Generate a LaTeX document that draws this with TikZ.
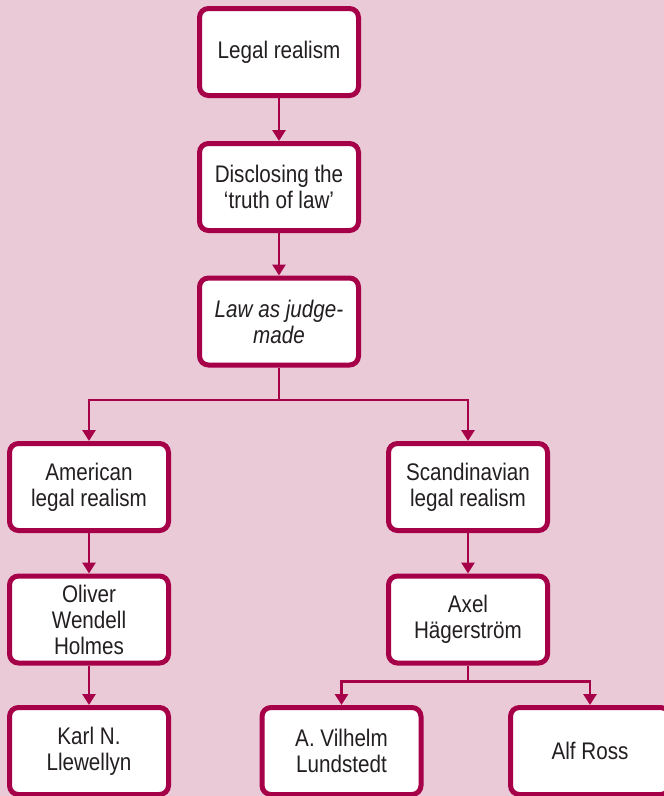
\documentclass[tikz,border=0pt]{standalone}
\usepackage{fontspec}
\setmainfont{Liberation Sans}[FakeStretch=0.86]
\usetikzlibrary{arrows.meta}
\definecolor{bgpink}{RGB}{235,202,216}
\definecolor{crimson}{RGB}{166,0,72}
\definecolor{inktext}{RGB}{35,31,32}
\begin{document}
\begin{tikzpicture}[x=1pt,y=-1pt,
  box/.style={draw=crimson, line width=5pt, fill=white, rounded corners=9pt,
    minimum width=159pt, minimum height=87pt, inner sep=2pt, align=center,
    text=inktext, font=\fontsize{24}{26}\selectfont, yshift=0pt},
  link/.style={draw=crimson, line width=2.8pt},
  arrow/.style={link, -{Triangle[length=11pt,width=13pt]}}]
  % page background and bounds
  \fill[bgpink] (0,0) rectangle (664,796);
  \useasboundingbox (0,0) rectangle (664,796);

  % boxes
  \node[box] (realism)  at (279,52)    {\raisebox{-2pt}{Legal realism}};
  \node[box] (truth)    at (279,187)   {Disclosing the\\‘truth of law’};
  \node[box] (judge)    at (279,321.5) {\itshape Law as judge-\\\itshape made};
  \node[box] (american) at (89,487)    {American\\legal realism};
  \node[box] (scandi)   at (468,487)   {Scandinavian\\legal realism};
  \node[box] (holmes)   at (89,619.5)  {Oliver\\Wendell\\Holmes};
  \node[box] (hager)    at (468,619.5) {Axel\\Hägerström};
  \node[box] (llew)     at (89,751)    {Karl N.\\Llewellyn};
  \node[box] (lund)     at (341.5,751) {A. Vilhelm\\Lundstedt};
  \node[box] (ross)     at (590,751)   {\raisebox{-2pt}{Alf Ross}};

  % branch points
  \coordinate (split1) at (279,400);
  \coordinate (split2) at (468,681.5);

  % connectors
  \draw[arrow] (realism) -- (truth);
  \draw[arrow] (truth) -- (judge);
  \draw[link] (judge) -- (split1);
  \draw[arrow] (split1) -| (american.north);
  \draw[arrow] (split1) -| (scandi.north);
  \draw[arrow] (american) -- (holmes);
  \draw[arrow] (holmes) -- (llew);
  \draw[arrow] (scandi) -- (hager);
  \draw[link] (hager) -- (split2);
  \draw[arrow] (split2) -| (lund.north);
  \draw[arrow] (split2) -| (ross.north);
\end{tikzpicture}
\end{document}
